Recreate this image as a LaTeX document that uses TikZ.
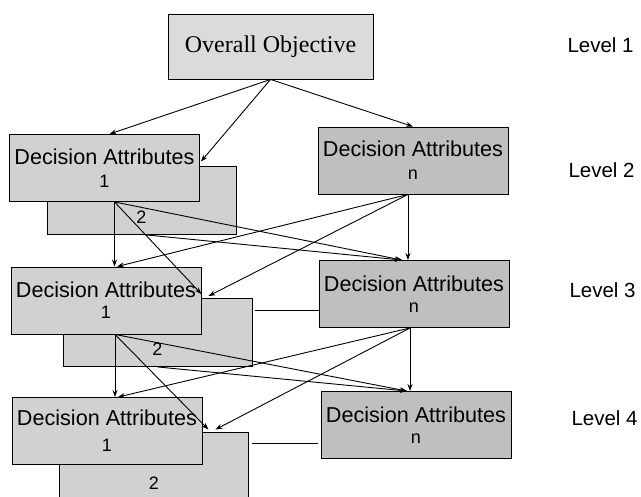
\documentclass[tikz,border=0pt]{standalone}
\usepackage{fontspec}
\setmainfont{Liberation Serif}
\setsansfont{Liberation Sans}
\usetikzlibrary{positioning,arrows.meta,calc}
\definecolor{boxgray}{gray}{0.82}
\definecolor{boxgrayn}{gray}{0.75}
\definecolor{topgray}{gray}{0.86}
\newcommand{\numSize}{\fontsize{18}{18}\selectfont}

\begin{document}
\begin{tikzpicture}[x=1pt, y=-1pt,
    attrBox/.style={rectangle, draw=black, fill=boxgray, line width=0.9pt, minimum width=190pt, minimum height=67pt, inner sep=0pt, align=center, font=\sffamily\fontsize{21.6}{22}\selectfont},
    backBox/.style={attrBox, minimum width=189pt, minimum height=68pt},
    nBox/.style={attrBox, fill=boxgrayn},
    topBox/.style={rectangle, draw=black, fill=topgray, line width=0.9pt, minimum width=205pt, minimum height=65pt, font=\fontsize{24}{26}\selectfont},
    numFont/.style={font=\sffamily\numSize},
    levelFont/.style={anchor=west, font=\sffamily\fontsize{20.5}{22}\selectfont},
    linkArrow/.style={-{Stealth[length=7pt,width=5pt]}, line width=0.9pt},
    linkLine/.style={line width=0.9pt}
]
    \useasboundingbox (0,0) rectangle (641,497);

    % Level 1
    \node[topBox] (top) at (270.5, 46.5) {Overall Objective};
    \node[levelFont] (lev1) at (564, 45) {Level 1};

    % Level 2
    \node[backBox] (b2) at (141.5, 200) {};
    \node[numFont] (b2num) at ($(b2.center)+(0,17)$) {2};
    \node[attrBox] (f2) at (104.5, 168) {Decision Attributes\\[1pt]{\numSize 1}};
    \node[nBox] (n2) at (413, 160.5) {Decision Attributes\\[1pt]{\numSize n}};
    \node[levelFont] (lev2) at (565, 170) {Level 2};

    % Level 3
    \node[backBox] (b3) at (157.5, 332.5) {};
    \node[numFont] (b3num) at ($(b3.center)+(0,17)$) {2};
    \node[attrBox] (f3) at (106, 300.5) {Decision Attributes\\[-1pt]{\numSize 1}};
    \node[nBox] (n3) at (414, 294) {Decision Attributes\\[-1pt]{\numSize n}};
    \node[levelFont] (lev3) at (566, 290) {Level 3};

    % Level 4
    \node[backBox] (b4) at (154, 466) {};
    \node[numFont] (b4num) at ($(b4.center)+(0,17)$) {2};
    \node[attrBox] (f4) at (107, 431) {Decision Attributes\\[4pt]{\numSize 1}};
    \node[nBox] (n4) at (416, 425) {Decision Attributes\\[-1pt]{\numSize n}};
    \node[levelFont] (lev4) at (568, 418) {Level 4};

    % Level 1 -> Level 2
    \coordinate (t2) at ($(f2.east |- b2.north)+(1,-4)$);
    \draw[linkArrow] (top.south) -- ($(f2.north)+(5,0)$);
    \draw[linkArrow] (top.south) -- (t2);
    \draw[linkArrow] (top.south) -- (n2.north);

    % Level 2 -> Level 3
    \coordinate (s2) at ($(f2.south)+(10,0)$);
    \coordinate (m2) at ($(n2.south)+(-5,0)$);
    \coordinate (t3a) at ($(f3.east |- b3.north)+(0,-4)$);
    \coordinate (t3b) at ($(f3.east |- b3.north)+(7,-2)$);
    \coordinate (u3) at ($(n3.north)+(-12,0)$);
    \draw[linkArrow] (s2) -- (s2 |- f3.north);
    \draw[linkArrow] (s2) -- (t3a);
    \draw[linkArrow] (s2) -- (u3);
    \draw[linkArrow] (b2.south) -- (u3);
    \draw[linkArrow] (m2) -- (m2 |- n3.north);
    \draw[linkArrow] (m2) -- ($(f3.north)+(11,0)$);
    \draw[linkArrow] (m2) -- (t3b);
    \coordinate (c3) at ($(b3.north east)+(3,12)$);
    \draw[linkLine] (c3) -- (c3 -| n3.west);

    % Level 3 -> Level 4
    \coordinate (s3) at ($(f3.south)+(9,0)$);
    \coordinate (m3) at ($(n3.south)+(-4,0)$);
    \coordinate (t4a) at ($(f4.east |- b4.north)+(6,-2)$);
    \coordinate (t4b) at ($(f4.east |- b4.north)+(13,-2)$);
    \coordinate (u4) at ($(n4.north)+(-9,0)$);
    \draw[linkArrow] (s3) -- (s3 |- f4.north);
    \draw[linkArrow] (s3) -- (t4a);
    \draw[linkArrow] (s3) -- (u4);
    \draw[linkArrow] (b3.south) -- (u4);
    \draw[linkArrow] (m3) -- (m3 |- n4.north);
    \draw[linkArrow] (m3) -- ($(f4.north)+(11,0)$);
    \draw[linkArrow] (m3) -- (t4b);
    \coordinate (c4) at ($(b4.north east)+(3,12)$);
    \draw[linkLine, shorten >=3pt] (c4) -- (c4 -| n4.west);
\end{tikzpicture}
\end{document}
